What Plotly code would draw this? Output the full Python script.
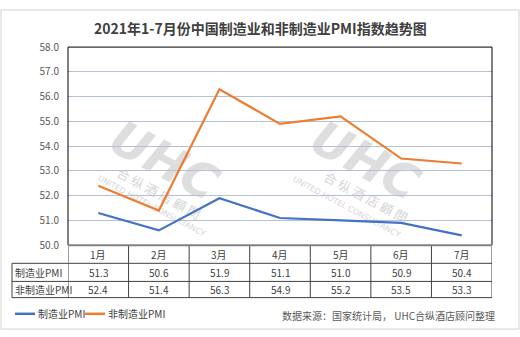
import plotly.graph_objects as go

months = ["1月", "2月", "3月", "4月", "5月", "6月", "7月"]
mfg_name = "制造业PMI"
nonmfg_name = "非制造业PMI"
mfg = [51.3, 50.6, 51.9, 51.1, 51.0, 50.9, 50.4]
nonmfg = [52.4, 51.4, 56.3, 54.9, 55.2, 53.5, 53.3]
title = "2021年1-7月份中国制造业和非制造业PMI指数趋势图"
source = "数据来源：国家统计局， UHC合纵酒店顾问整理"
wm_logo = "UHC"
wm_cn = "合 纵 酒 店 顧 問"
wm_en = "UNITED HOTEL CONSULTANCY"

W, H = 520, 337
BLUE = "#4472C4"
ORANGE = "#ED7D31"
FONT = "Noto Sans CJK SC"
TXT = "#404040"

def px(x):
    return x / W

def py(y):
    return 1 - y / H

L, R, T, B = 68, 492, 40, 248
xs = list(range(len(months)))

fig = go.Figure()
fig.add_trace(go.Scatter(x=xs, y=mfg, mode="lines", name=mfg_name,
                         line=dict(color=BLUE, width=2.2)))
fig.add_trace(go.Scatter(x=xs, y=nonmfg, mode="lines", name=nonmfg_name,
                         line=dict(color=ORANGE, width=2.2)))

shapes = []
annotations = []

def ann(x, y, text, xref="paper", xanchor="center", font=None):
    annotations.append(dict(x=x, y=y, xref=xref, yref="paper", text=text,
                            showarrow=False, xanchor=xanchor, yanchor="middle",
                            font=font))

def wm_text(cx, cy, text, size, angle, color, family=FONT):
    f = dict(family=family, size=size, color=color)
    shapes.append(dict(type="rect", xref="paper", yref="paper", layer="below",
                       x0=px(cx - 5), x1=px(cx + 5), y0=py(cy + 5), y1=py(cy - 5),
                       line=dict(width=0), fillcolor="rgba(0,0,0,0)",
                       label=dict(text=text, textangle=angle, font=f,
                                  textposition="middle center")))

# watermarks
ANG = 28
for (cx, cy, ccx, ccy, ecx, ecy) in [(166, 156, 158, 195, 152, 206),
                                     (367, 156, 365, 199, 347, 207)]:
    wm_text(cx, cy, f"<b><i>{wm_logo}</i></b>", 48, ANG, "#dedede",
            family="DejaVu Sans")
    wm_text(ccx, ccy, wm_cn, 13, ANG, "#d6d6d6")
    wm_text(ecx, ecy, wm_en, 8, ANG, "#d6d6d6", family="DejaVu Sans")

# outer frame
shapes.append(dict(type="rect", xref="paper", yref="paper",
                   x0=px(1), x1=px(519), y0=py(336), y1=py(1),
                   line=dict(color="#d0d0d0", width=1)))
# plot border top/left/right
for (x0, y0, x1, y1) in [(L, T, R, T), (L, T, L, B), (R, T, R, B)]:
    shapes.append(dict(type="line", xref="paper", yref="paper",
                       x0=px(x0), x1=px(x1), y0=py(y0), y1=py(y1),
                       line=dict(color="#000000", width=1)))

# table
r0, r1, r2, r3 = B, 267, 286, 303
TL = 12
for yy in (r1, r2, r3):
    shapes.append(dict(type="line", xref="paper", yref="paper",
                       x0=px(TL), x1=px(R), y0=py(yy), y1=py(yy),
                       line=dict(color="#404040", width=1)))
shapes.append(dict(type="line", xref="paper", yref="paper",
                   x0=px(TL), x1=px(TL), y0=py(r1), y1=py(r3),
                   line=dict(color="#404040", width=1)))
for i in range(len(months) + 1):
    shapes.append(dict(type="line", xref="x", yref="paper",
                       x0=i - 0.5, x1=i - 0.5, y0=py(r0), y1=py(r3),
                       line=dict(color="#404040", width=1)))
shapes.append(dict(type="line", xref="paper", yref="paper",
                   x0=px(L), x1=px(R), y0=py(B), y1=py(B),
                   line=dict(color="#808080", width=2)))

tf = dict(family=FONT, size=10, color=TXT)
for i, m in enumerate(months):
    ann(i, py((r0 + r1) / 2), m, xref="x", font=tf)
    ann(i, py((r1 + r2) / 2), f"{mfg[i]:.1f}", xref="x", font=tf)
    ann(i, py((r2 + r3) / 2), f"{nonmfg[i]:.1f}", xref="x", font=tf)
ann(px(TL + 1), py((r1 + r2) / 2), mfg_name, xanchor="left", font=tf)
ann(px(TL + 1), py((r2 + r3) / 2), nonmfg_name, xanchor="left", font=tf)

LY = 320
shapes.append(dict(type="line", xref="paper", yref="paper",
                   x0=px(15), x1=px(35), y0=py(LY), y1=py(LY),
                   line=dict(color=BLUE, width=2.5)))
ann(px(36), py(LY), mfg_name, xanchor="left", font=tf)
shapes.append(dict(type="line", xref="paper", yref="paper",
                   x0=px(85), x1=px(105), y0=py(LY), y1=py(LY),
                   line=dict(color=ORANGE, width=2.5)))
ann(px(106), py(LY), nonmfg_name, xanchor="left", font=tf)

ann(px(497), py(322), source, xanchor="right",
    font=dict(family=FONT, size=10, color="#595959"))
ann(0.5, py(20), f"<b>{title}</b>", font=dict(family=FONT, size=14, color=TXT))

fig.update_layout(
    width=W, height=H,
    margin=dict(l=0, r=0, t=0, b=0),
    paper_bgcolor="white", plot_bgcolor="rgba(0,0,0,0)",
    showlegend=False,
    shapes=shapes, annotations=annotations,
    xaxis=dict(domain=[px(L), px(R)], range=[-0.5, len(months) - 0.5],
               showticklabels=False, showgrid=False, zeroline=False,
               fixedrange=True),
    yaxis=dict(domain=[py(B), py(T)], range=[50, 58], dtick=1,
               tickformat=".1f", showgrid=True, gridcolor="#b4c0d6",
               gridwidth=1, zeroline=False, ticks="",
               ticklabelstandoff=8,
               tickfont=dict(family=FONT, size=10, color="#595959")),
)

fig.write_html("out.html")
